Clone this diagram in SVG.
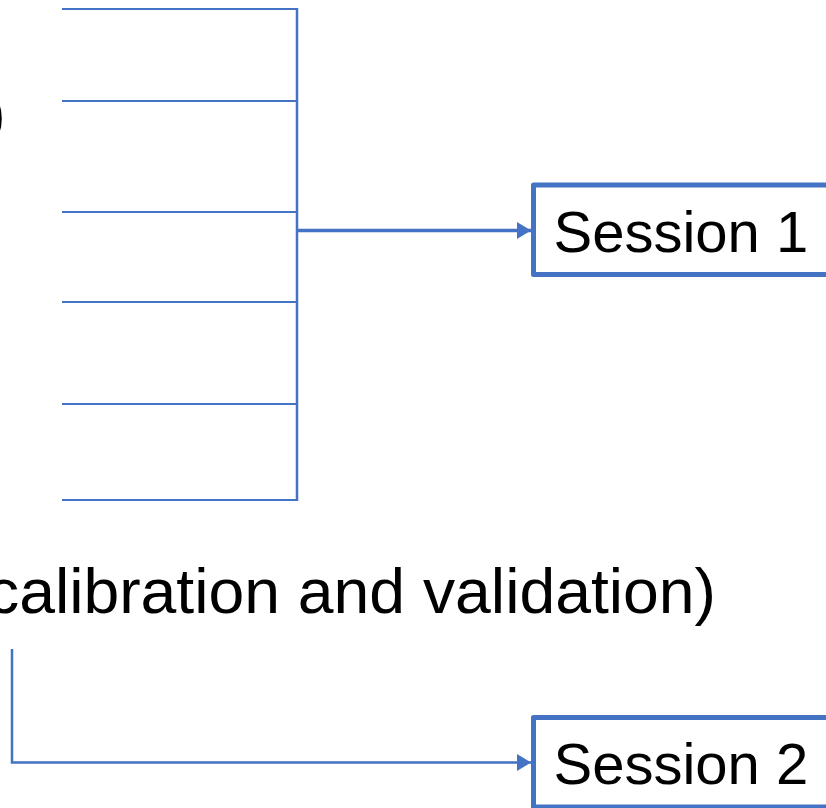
<svg xmlns="http://www.w3.org/2000/svg" width="826" height="808" viewBox="0 0 826 808">
  <style>
    .wire { fill: none; stroke: #4472C4; stroke-linecap: butt; stroke-linejoin: miter; }
    .box { fill: #FFFFFF; stroke: #4472C4; stroke-width: 5; stroke-linejoin: round; }
    .label { font-family: "Liberation Sans", Arial, sans-serif; fill: #000000; }
  </style>
  <defs>
    <marker id="arrow" viewBox="0 0 14 17" refX="14" refY="8.5" markerWidth="14" markerHeight="17" markerUnits="userSpaceOnUse" orient="auto">
      <path d="M0,0 L14,8.5 L0,17 Z" fill="#4472C4"/>
    </marker>
  </defs>

  <rect x="0" y="0" width="826" height="808" fill="#FFFFFF"/>

  <!-- clipped tail of a label running off the left edge -->
  <text class="label" x="-15" y="134" font-size="62">)</text>

  <!-- long caption -->
  <text class="label" x="-13" y="613" font-size="63" textLength="729" lengthAdjust="spacingAndGlyphs">calibration and validation)</text>

  <g id="connectors">
    <!-- six feeders merging into one bus -->
    <path class="wire" stroke-width="2" d="M62,9 H297 M62,101 H297 M62,212 H297 M62,302 H297 M62,404 H297 M62,500 H297"/>
    <path class="wire" stroke-width="2.5" d="M297,8 V501"/>
    <!-- bus to Session 1 -->
    <path class="wire" stroke-width="3.5" d="M297,230.5 H531" marker-end="url(#arrow)"/>
    <!-- caption to Session 2 -->
    <path class="wire" stroke-width="2.5" d="M12,649 V762.5 H531" marker-end="url(#arrow)"/>
  </g>

  <g id="session1">
    <rect class="box" x="533.5" y="185" width="400" height="89.5"/>
    <text class="label" x="553.5" y="252" font-size="58">Session 1</text>
  </g>

  <g id="session2">
    <rect class="box" x="533.5" y="717.5" width="400" height="89.5"/>
    <text class="label" x="553.5" y="784" font-size="58">Session 2</text>
  </g>
</svg>
